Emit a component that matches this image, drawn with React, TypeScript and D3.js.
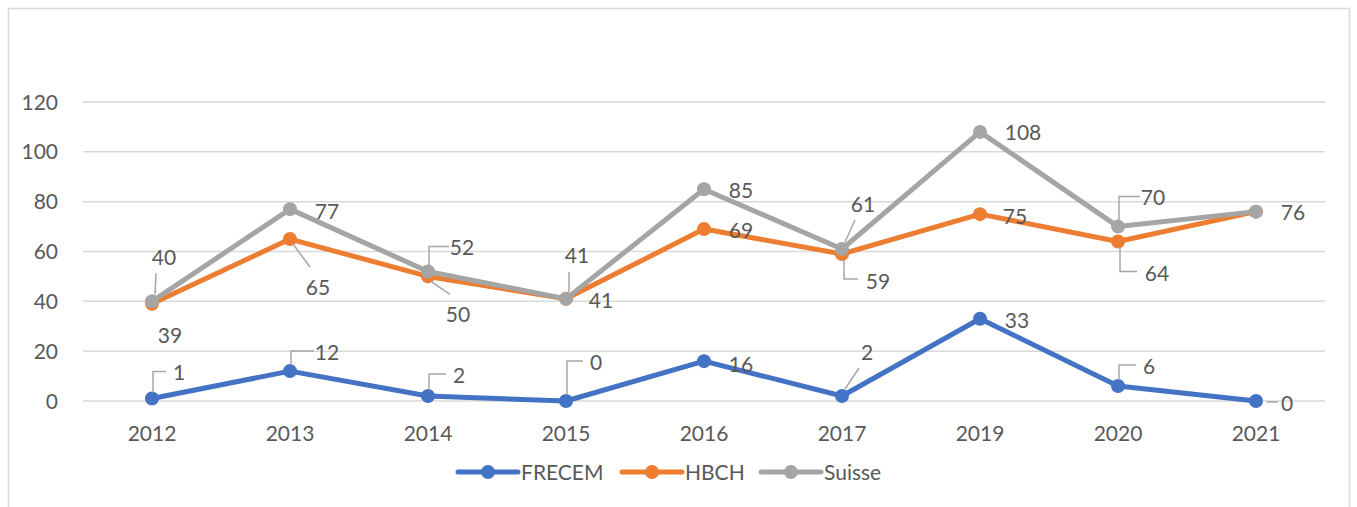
import React from "react";
import * as d3 from "d3";

const categories = ["2012", "2013", "2014", "2015", "2016", "2017", "2019", "2020", "2021"];
const frecem = [1, 12, 2, 0, 16, 2, 33, 6, 0];
const hbch = [39, 65, 50, 41, 69, 59, 75, 64, 76];
const suisse = [40, 77, 52, 41, 85, 61, 108, 70, 76];
const yTicks = [0, 20, 40, 60, 80, 100, 120];

type Leader = "none" | "up" | "down" | "diag" | "dash" | "hidden";
interface LabelPos { dx: number; dy: number; leader: Leader }

// label placement (styling, not data)
const frecemLabels: LabelPos[] = [
  { dx: 27, dy: -26, leader: "up" },
  { dx: 37, dy: -19, leader: "up" },
  { dx: 31, dy: -21, leader: "up" },
  { dx: 30, dy: -39, leader: "up" },
  { dx: 37, dy: 3, leader: "none" },
  { dx: 25, dy: -44, leader: "diag" },
  { dx: 37, dy: 2, leader: "none" },
  { dx: 31, dy: -20, leader: "up" },
  { dx: 31, dy: 2, leader: "dash" },
];
const hbchLabels: LabelPos[] = [
  { dx: 18, dy: 32, leader: "none" },
  { dx: 28, dy: 48, leader: "diag" },
  { dx: 30, dy: 38, leader: "diag" },
  { dx: 35, dy: 2, leader: "none" },
  { dx: 37, dy: 1, leader: "none" },
  { dx: 36, dy: 27, leader: "down" },
  { dx: 35, dy: 2, leader: "none" },
  { dx: 39, dy: 32, leader: "down" },
  { dx: 37, dy: 1, leader: "hidden" },
];
const suisseLabels: LabelPos[] = [
  { dx: 12, dy: -44, leader: "diag" },
  { dx: 37, dy: 2, leader: "none" },
  { dx: 34, dy: -24, leader: "up" },
  { dx: 11, dy: -43, leader: "diag" },
  { dx: 37, dy: 1, leader: "none" },
  { dx: 21, dy: -45, leader: "diag" },
  { dx: 43, dy: 1, leader: "none" },
  { dx: 35, dy: -29, leader: "up" },
  { dx: 37, dy: 1, leader: "none" },
];

const seriesList = [
  { name: "FRECEM", values: frecem, color: "#4472C4", labels: frecemLabels },
  { name: "HBCH", values: hbch, color: "#ED7D31", labels: hbchLabels },
  { name: "Suisse", values: suisse, color: "#A5A5A5", labels: suisseLabels },
];

const FONT = "Lato, 'Open Sans', sans-serif";
const TEXT = "#595959";

export default function App() {
  const W = 1357, H = 507;
  const left = 83, right = 1325, top = 102, bottom = 401;
  const x = d3.scaleBand<string>().domain(categories).range([left, right]);
  const y = d3.scaleLinear().domain([0, 120]).range([bottom, top]);
  const cx = (c: string) => (x(c) as number) + x.bandwidth() / 2;
  const line = d3.line<number>().x((_, i) => cx(categories[i])).y((v) => y(v));

  const leaderPath = (px: number, py: number, lx: number, ly: number, kind: Leader) => {
    if (kind === "up") {
      return `M${px + 1},${py - 6} L${px + 1},${ly - 1} L${lx - 13},${ly - 1}`;
    }
    if (kind === "down") {
      return `M${px + 2},${py + 6} L${px + 2},${ly - 2} L${lx - 20},${ly - 2}`;
    }
    if (kind === "diag") {
      const tx = lx - 8, ty = ly + 16;
      return `M${px + 3},${py - (py > ly ? 7 : -5)} L${tx},${py > ly ? ty : ly - 20}`;
    }
    if (kind === "dash") {
      return `M${px + 11},${py + 1} L${lx - 9},${py + 1}`;
    }
    return "";
  };

  return (
    <svg width={W} height={H} style={{ position: "absolute", left: 0, top: 0 }}>
      <rect x={8.5} y={8.5} width={1341} height={510} fill="#fff" stroke="#d9d9d9" strokeWidth={1.5} />
      {yTicks.map((t) => (
        <g key={t}>
          <line x1={left} x2={right} y1={y(t)} y2={y(t)} stroke="#d9d9d9" strokeWidth={1.5} />
          <text x={58} y={y(t)} dy="0.36em" textAnchor="end" fontFamily={FONT} fontSize={21} fill={TEXT}>{t}</text>
        </g>
      ))}
      {categories.map((c) => (
        <text key={c} x={cx(c)} y={441} textAnchor="middle" fontFamily={FONT} fontSize={21} fill={TEXT}>{c}</text>
      ))}
      {seriesList.map((s) => (
        <g key={s.name}>
          <path d={line(s.values) || ""} fill="none" stroke={s.color} strokeWidth={5} strokeLinejoin="round" strokeLinecap="round" />
          {s.values.map((v, i) => (
            <circle key={i} cx={cx(categories[i])} cy={y(v)} r={7} fill={s.color} />
          ))}
        </g>
      ))}
      {seriesList.map((s) => (
        <g key={s.name + "-labels"}>
          {s.values.map((v, i) => {
            const px = cx(categories[i]);
            const py = y(v);
            const L = s.labels[i];
            if (L.leader === "hidden") return null;
            const lx = px + L.dx;
            const ly = py + L.dy;
            return (
              <g key={i}>
                {L.leader !== "none" && (
                  <path d={leaderPath(px, py, lx, ly, L.leader)} fill="none" stroke="#a6a6a6" strokeWidth={1.5} />
                )}
                <text x={lx} y={ly} dy="0.36em" textAnchor="middle" fontFamily={FONT} fontSize={21} fill={TEXT}>{v}</text>
              </g>
            );
          })}
        </g>
      ))}
      {seriesList.map((s, i) => {
        const lx0 = [458, 622, 761][i];
        return (
          <g key={s.name + "-legend"}>
            <line x1={lx0} x2={lx0 + 60} y1={472} y2={472} stroke={s.color} strokeWidth={5} strokeLinecap="round" />
            <circle cx={lx0 + 30} cy={472} r={7} fill={s.color} />
            <text x={lx0 + 63} y={472} dy="0.36em" fontFamily={FONT} fontSize={21} fill={TEXT}>{s.name}</text>
          </g>
        );
      })}
    </svg>
  );
}
